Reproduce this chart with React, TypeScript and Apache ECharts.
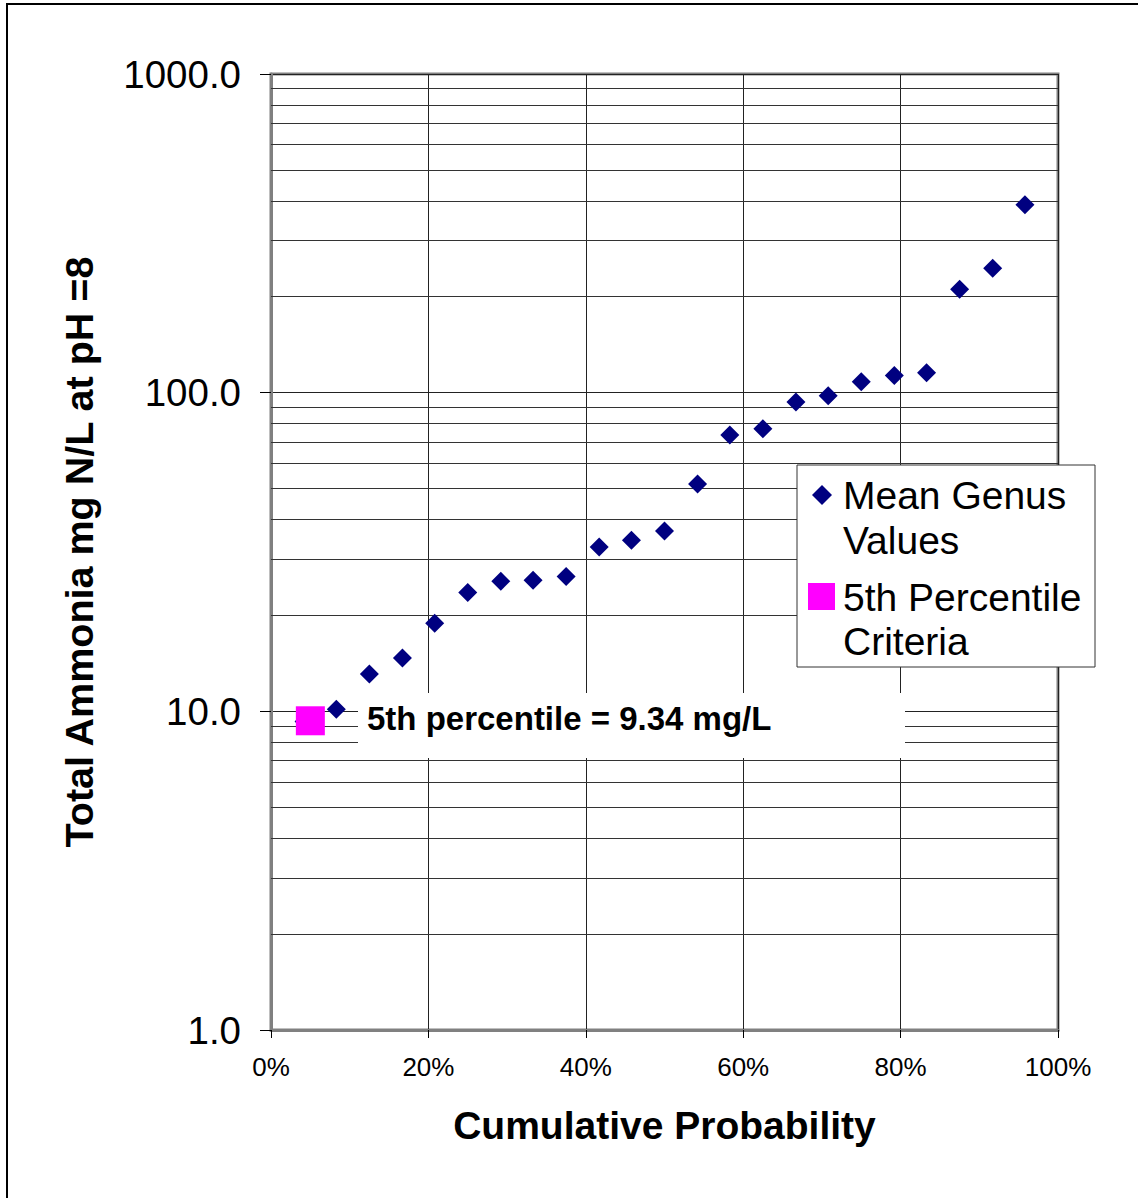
import React, { useEffect, useRef } from "react";
import * as echarts from "echarts";

const FONT = 'Arial, "Liberation Sans", sans-serif';

const cumulativeProbability = [
  0.042, 0.083, 0.125, 0.167, 0.208, 0.25, 0.292, 0.333, 0.375, 0.417, 0.458, 0.5,
  0.542, 0.583, 0.625, 0.667, 0.708, 0.75, 0.792, 0.833, 0.875, 0.917, 0.958,
];
const meanGenusValues = [
  9.3, 10.15, 13.1, 14.7, 18.9, 23.6, 25.6, 25.8, 26.5, 32.8, 34.4, 36.8,
  51.7, 73.6, 77.1, 93.4, 97.8, 108.2, 113.3, 115.5, 211, 245.5, 388.8,
];
const percentileX = [0.05];
const percentileY = [9.34];
const minorGridValues = [
  2, 3, 4, 5, 6, 7, 8, 9, 20, 30, 40, 50, 60, 70, 80, 90, 200, 300, 400, 500, 600, 700, 800, 900,
];
const annotationText = "5th percentile = 9.34 mg/L";

export default function App() {
  const ref = useRef<HTMLDivElement>(null);
  useEffect(() => {
    document.body.style.margin = "0";
    const chart = echarts.init(ref.current!, null, { renderer: "svg" });
    const option: any = {
      animation: false,
      backgroundColor: "#ffffff",
      grid: {
        left: 271,
        top: 74,
        right: 80,
        bottom: 168,
        show: true,
        borderColor: "#808080",
        borderWidth: 3,
        backgroundColor: "#ffffff",
      },
      xAxis: {
        type: "value",
        min: 0,
        max: 1,
        interval: 0.2,
        name: "Cumulative Probability",
        nameLocation: "middle",
        nameGap: 76,
        nameTextStyle: { fontFamily: FONT, fontSize: 39, fontWeight: "bold", color: "#000" },
        axisLine: { show: true, lineStyle: { color: "#808080", width: 3 } },
        axisTick: { show: true, length: 8, lineStyle: { color: "#000", width: 1 } },
        axisLabel: {
          margin: 24,
          fontFamily: FONT,
          fontSize: 26,
          color: "#000",
          formatter: (v: number) => `${Math.round(v * 100)}%`,
        },
        splitLine: { show: true, lineStyle: { color: "#222", width: 1 } },
      },
      yAxis: {
        type: "log",
        logBase: 10,
        min: 1,
        max: 1000,
        name: "Total Ammonia mg N/L at pH =8",
        nameLocation: "middle",
        nameGap: 172,
        nameTextStyle: { fontFamily: FONT, fontSize: 39.5, fontWeight: "bold", color: "#000" },
        axisLine: { show: true, lineStyle: { color: "#808080", width: 3 } },
        axisTick: { show: true, length: 11, lineStyle: { color: "#000", width: 1 } },
        axisLabel: {
          margin: 30,
          fontFamily: FONT,
          fontSize: 38.5,
          color: "#000",
          formatter: (v: number) => v.toFixed(1),
        },
        splitLine: { show: true, lineStyle: { color: "#222", width: 1 } },
      },
      series: [
        {
          name: "Mean Genus Values",
          type: "scatter",
          symbol: "diamond",
          symbolSize: 19,
          itemStyle: { color: "#000080", opacity: 1 },
          data: cumulativeProbability.map((p, i) => [p, meanGenusValues[i]]),
          z: 3,
          markLine: {
            silent: true,
            symbol: "none",
            label: { show: false },
            lineStyle: { color: "#333", width: 1, type: "solid" },
            data: minorGridValues.map((v) => ({ yAxis: v })),
            z: 1,
          },
        },
        {
          name: "5th Percentile Criteria",
          type: "scatter",
          symbol: "rect",
          symbolSize: 29,
          itemStyle: { color: "#ff00ff", opacity: 1 },
          data: percentileX.map((p, i) => [p, percentileY[i]]),
          z: 4,
        },
      ],
      graphic: [
        {
          type: "rect",
          shape: { x: 7, y: 4, width: 1200, height: 1300 },
          style: { fill: "none", stroke: "#000", lineWidth: 2 },
          z: 0,
          silent: true,
        },
        {
          type: "rect",
          shape: { x: 358, y: 693, width: 547, height: 65 },
          style: { fill: "#ffffff" },
          z: 10,
        },
        {
          type: "text",
          x: 367,
          y: 718,
          style: {
            text: annotationText,
            fontFamily: FONT,
            fontSize: 33,
            fontWeight: "bold",
            fill: "#000",
            verticalAlign: "middle",
          },
          z: 11,
        },
        {
          type: "rect",
          shape: { x: 797, y: 465, width: 298, height: 202 },
          style: { fill: "#ffffff", stroke: "#333", lineWidth: 1 },
          z: 10,
        },
        {
          type: "polygon",
          shape: { points: [[822, 485], [832, 495], [822, 505], [812, 495]] },
          style: { fill: "#000080" },
          z: 11,
        },
        {
          type: "text",
          x: 843,
          y: 473,
          style: {
            text: "Mean Genus\nValues",
            fontFamily: FONT,
            fontSize: 39,
            lineHeight: 45,
            fill: "#000",
            verticalAlign: "top",
          },
          z: 11,
        },
        {
          type: "rect",
          shape: { x: 808, y: 583, width: 27, height: 27 },
          style: { fill: "#ff00ff" },
          z: 11,
        },
        {
          type: "text",
          x: 843,
          y: 575,
          style: {
            text: "5th Percentile\nCriteria",
            fontFamily: FONT,
            fontSize: 39,
            lineHeight: 44,
            fill: "#000",
            verticalAlign: "top",
          },
          z: 11,
        },
      ],
    };
    chart.setOption(option);
    return () => chart.dispose();
  }, []);
  return <div ref={ref} style={{ width: 1138, height: 1198 }} />;
}
